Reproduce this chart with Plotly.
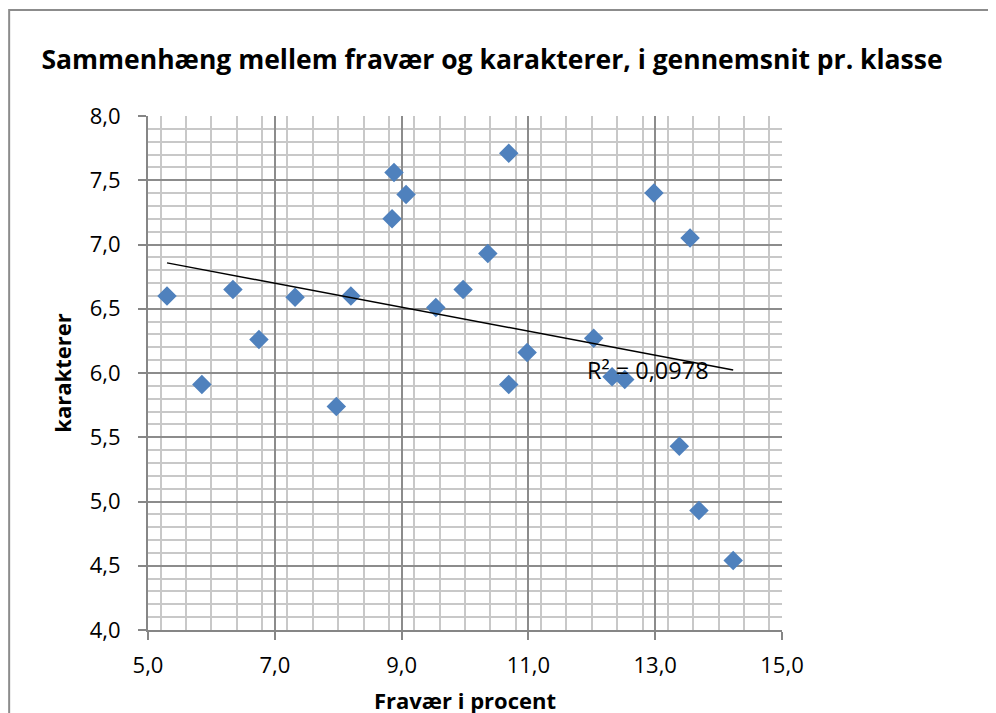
import numpy as np
import plotly.graph_objects as go

fravaer = [5.30, 5.85, 6.34, 6.75, 7.32, 7.97, 8.20, 8.85, 8.88, 9.07, 9.54, 9.97,
           10.36, 10.69, 10.69, 10.98, 12.03, 12.32, 12.52, 12.98, 13.55, 13.38, 13.69, 14.23]
karakterer = [6.60, 5.91, 6.65, 6.26, 6.59, 5.74, 6.60, 7.20, 7.56, 7.39, 6.51, 6.65,
              6.93, 7.71, 5.91, 6.16, 6.27, 5.97, 5.95, 7.40, 7.05, 5.43, 4.93, 4.54]
r2_label = "R² = 0,0978"

FONT = "Open Sans"

x = np.array(fravaer)
y = np.array(karakterer)
slope, intercept = np.polyfit(x, y, 1)
tx = np.array([x.min(), x.max()])
ty = slope * tx + intercept

fig = go.Figure()
fig.add_trace(go.Scatter(x=fravaer, y=karakterer, mode="markers",
                         marker=dict(symbol="diamond", size=15, color="#4F81BD",
                                     line=dict(width=0)),
                         showlegend=False))
fig.add_trace(go.Scatter(x=tx, y=ty, mode="lines",
                         line=dict(color="black", width=1.5), showlegend=False))

fig.add_annotation(x=11.90, y=6.02, xref="x", yref="y", text=r2_label, showarrow=False,
                   xanchor="left", yanchor="middle",
                   font=dict(family=FONT, size=23.5, color="black"))

# outer chart border
fig.add_shape(type="rect", xref="paper", yref="paper", x0=-0.219, x1=1.6, y0=-0.4, y1=1.206,
              line=dict(color="#8C8C8C", width=2), fillcolor="rgba(0,0,0,0)", layer="below")

axis_common = dict(showline=True, linecolor="#868686", linewidth=2, mirror=False,
                   ticks="outside", ticklen=8, tickcolor="#868686", tickwidth=2,
                   gridcolor="#8C8C8C", gridwidth=2, zeroline=False,
                   tickformat=".1f",
                   tickfont=dict(family=FONT, size=22, color="black"))

fig.update_xaxes(range=[5, 15], dtick=2, tick0=5,
                 minor=dict(dtick=0.4, showgrid=True, gridcolor="#C8C8C8", gridwidth=2,
                            ticks=""),
                 ticklabelstandoff=7,
                 title=dict(text="<b>Fravær i procent</b>", standoff=15,
                            font=dict(family=FONT, size=22, color="black")),
                 **axis_common)
fig.update_yaxes(range=[4, 8], dtick=0.5, tick0=4,
                 minor=dict(dtick=0.1, showgrid=True, gridcolor="#C8C8C8", gridwidth=2,
                            ticks=""),
                 ticklabelstandoff=13,
                 title=dict(text="<b>karakterer</b>", standoff=12,
                            font=dict(family=FONT, size=22, color="black")),
                 **axis_common)

fig.update_layout(
    width=996, height=713,
    margin=dict(l=140, r=222, t=108, b=91),
    paper_bgcolor="white", plot_bgcolor="white",
    separators=",.",
    title=dict(text="<b>Sammenhæng mellem fravær og karakterer, i gennemsnit pr. klasse</b>",
               x=0.486, xanchor="center", xref="container", y=0.928, yanchor="middle",
               font=dict(family=FONT, size=26.5, color="black")),
)

fig.write_html("out.html")
